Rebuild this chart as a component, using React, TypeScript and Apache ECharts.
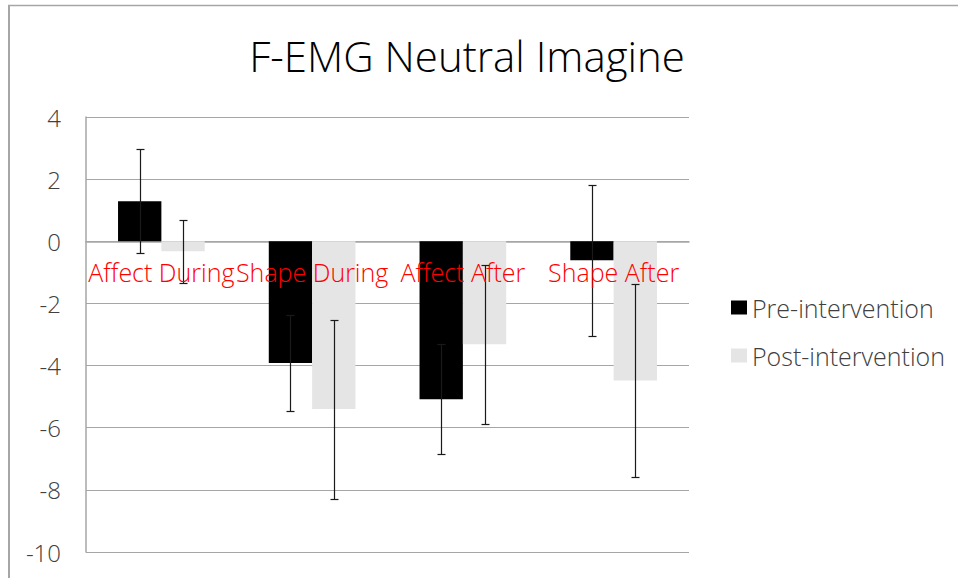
import React, { useEffect, useRef } from "react";
import * as echarts from "echarts";

const categories = ["Affect During", "Shape During", "Affect After", "Shape After"];
const seriesNames = ["Pre-intervention", "Post-intervention"];
const preMeans = [1.29, -3.92, -5.08, -0.61];
const preErr = [1.67, 1.54, 1.77, 2.43];
const postMeans = [-0.32, -5.4, -3.31, -4.48];
const postErr = [1.02, 2.88, 2.56, 3.12];
const yTicks = { min: -10, max: 4, interval: 2 };
const titleText = "F-EMG Neutral Imagine";

const FONT = "'Open Sans', 'Noto Sans', sans-serif";
const BAR_FRACTION = 0.575; // share of category width covered by both bars

export default function App() {
  const ref = useRef<HTMLDivElement>(null);
  useEffect(() => {
    if (!ref.current) return;
    const chart = echarts.init(ref.current, undefined, { renderer: "svg" });

    const errData = (means: number[], errs: number[], s: number) =>
      means.map((m, i) => [i, m - errs[i], m + errs[i], s]);

    const renderErr = (params: any, api: any) => {
      const idx = api.value(0);
      const lo = api.value(1);
      const hi = api.value(2);
      const s = api.value(3);
      const catW = api.size([1, 0])[0];
      const barW = (catW * BAR_FRACTION) / 2;
      const base = api.coord([idx, 0]);
      const x = Math.round(base[0] + (s === 0 ? -barW / 2 : barW / 2)) + 0.5;
      const yHi = Math.round(api.coord([idx, hi])[1]) + 0.5;
      const yLo = Math.round(api.coord([idx, lo])[1]) + 0.5;
      const cap = 4;
      const style = { stroke: "#1a1a1a", lineWidth: 1.2 };
      return {
        type: "group",
        children: [
          { type: "line", shape: { x1: x, y1: yHi, x2: x, y2: yLo }, style },
          { type: "line", shape: { x1: x - cap, y1: yHi, x2: x + cap, y2: yHi }, style },
          { type: "line", shape: { x1: x - cap, y1: yLo, x2: x + cap, y2: yLo }, style },
        ],
      };
    };

    const renderCatLabel = (params: any, api: any) => {
      const idx = api.value(0);
      const p = api.coord([idx, 0]);
      return {
        type: "text",
        x: p[0],
        y: p[1] + 18,
        style: {
          text: categories[idx],
          fill: "#ff0000",
          font: `300 25px ${FONT}`,
          align: "center",
          verticalAlign: "top",
        },
      };
    };

    chart.setOption({
      animation: false,
      backgroundColor: "#ffffff",
      title: {
        text: titleText,
        left: 462,
        textAlign: "center",
        top: 29,
        textStyle: { fontFamily: FONT, fontWeight: 300, fontSize: 42, color: "#000000" },
      },
      legend: {
        orient: "vertical",
        left: 731,
        top: 295,
        padding: 0,
        itemWidth: 16,
        itemHeight: 14,
        itemGap: 23,
        icon: "rect",
        data: seriesNames,
        textStyle: { fontFamily: FONT, fontWeight: 300, fontSize: 25, color: "#404040" },
      },
      grid: { left: 86, top: 117, width: 603, height: 435, containLabel: false, outerBoundsMode: "none" },
      xAxis: {
        type: "category",
        data: categories,
        axisLine: { show: true, onZero: true, lineStyle: { color: "#a6a6a6", width: 1.5 } },
        axisTick: { show: false },
        axisLabel: { show: false },
        splitLine: { show: false },
      },
      yAxis: {
        type: "value",
        min: yTicks.min,
        max: yTicks.max,
        interval: yTicks.interval,
        axisLine: { show: true, lineStyle: { color: "#a6a6a6", width: 1.5 } },
        axisTick: { show: false },
        axisLabel: {
          margin: 25,
          color: "#404040",
          fontFamily: FONT,
          fontWeight: 300,
          fontSize: 24,
        },
        splitLine: { show: true, lineStyle: { color: "#a6a6a6", width: 1.2 } },
      },
      series: [
        {
          name: seriesNames[0],
          type: "bar",
          data: preMeans,
          barGap: "0%",
          barCategoryGap: "42.5%",
          itemStyle: { color: "#000000" },
          z: 2,
        },
        {
          name: seriesNames[1],
          type: "bar",
          data: postMeans,
          barGap: "0%",
          barCategoryGap: "42.5%",
          itemStyle: { color: "#e5e5e5" },
          z: 2,
        },
        {
          name: "err-pre",
          type: "custom",
          renderItem: renderErr,
          data: errData(preMeans, preErr, 0),
          encode: { x: 0, y: [1, 2] },
          z: 5,
          silent: true,
        },
        {
          name: "err-post",
          type: "custom",
          renderItem: renderErr,
          data: errData(postMeans, postErr, 1),
          encode: { x: 0, y: [1, 2] },
          z: 5,
          silent: true,
        },
        {
          name: "cat-labels",
          type: "custom",
          renderItem: renderCatLabel,
          data: categories.map((_, i) => [i, 0]),
          encode: { x: 0, y: 1 },
          z: 6,
          silent: true,
        },
      ],
      graphic: [
        { type: "line", shape: { x1: 8, y1: 5.5, x2: 958, y2: 5.5 }, style: { stroke: "#a6a6a6", lineWidth: 1.5 } },
        { type: "line", shape: { x1: 9, y1: 5, x2: 9, y2: 578 }, style: { stroke: "#a6a6a6", lineWidth: 2 } },
      ],
    });
    return () => chart.dispose();
  }, []);
  return (
    <div
      ref={ref}
      style={{ position: "fixed", left: 0, top: 0, width: 958, height: 578, background: "#fff" }}
    />
  );
}
